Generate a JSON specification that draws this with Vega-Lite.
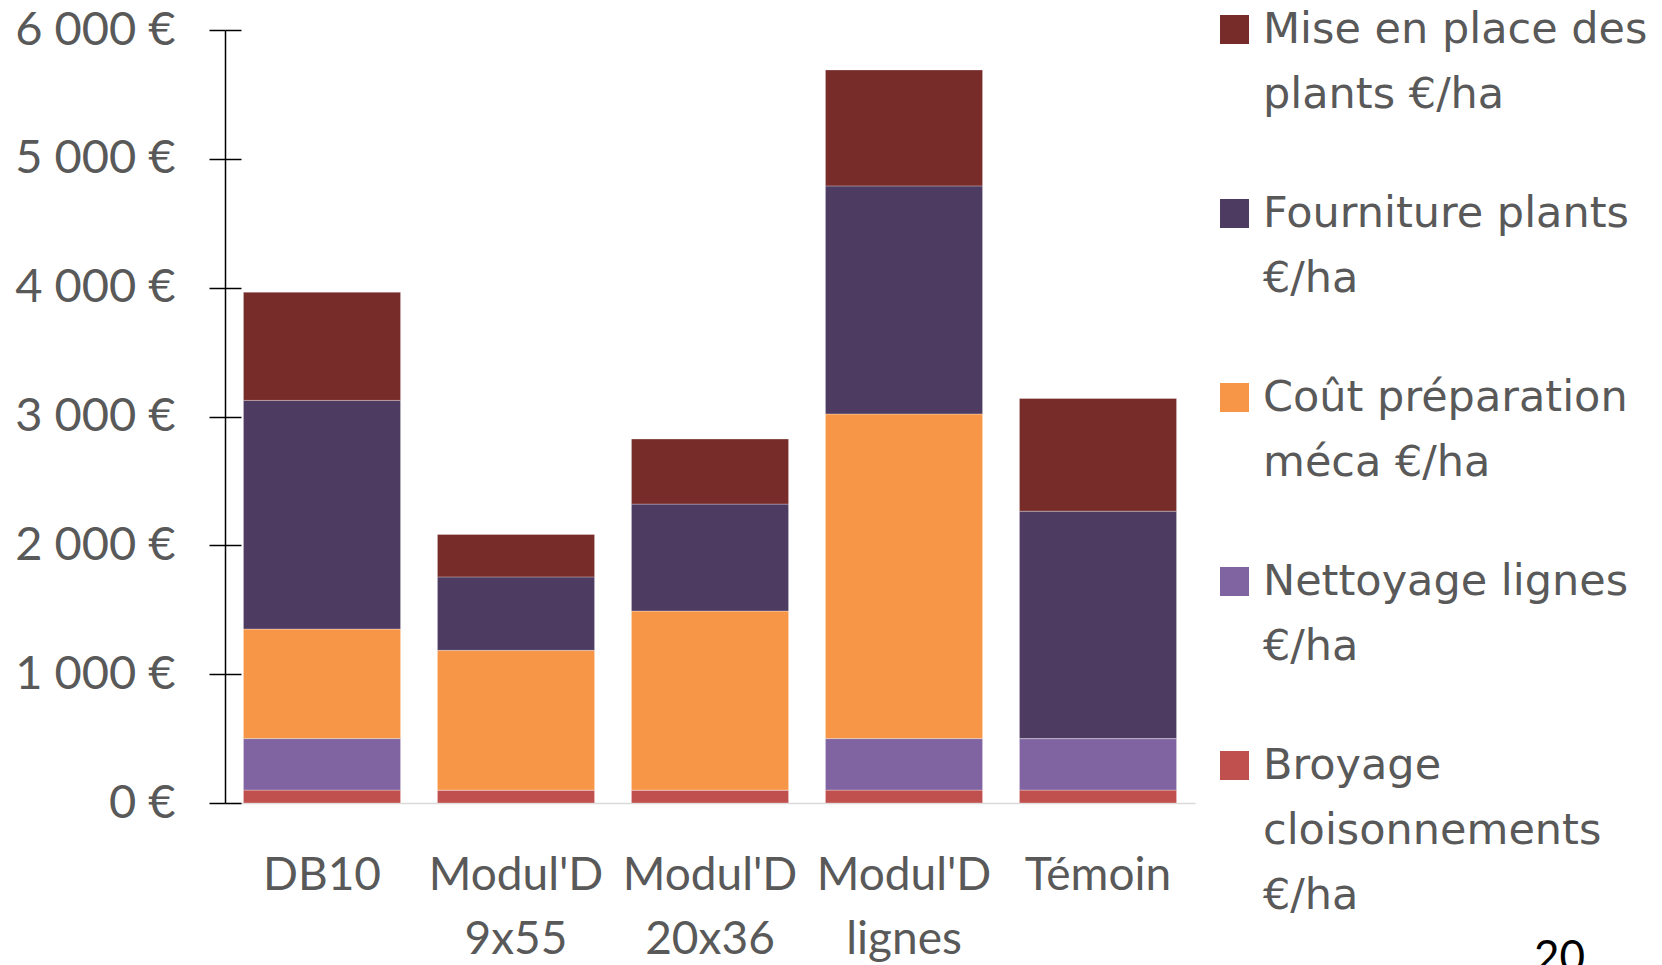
{
  "$schema": "https://vega.github.io/schema/vega-lite/v6.json",
  "width": 970,
  "height": 773,
  "autosize": {"type": "none"},
  "padding": {"left": 225, "top": 30, "right": 467, "bottom": 162},
  "background": "white",
  "config": {"view": {"stroke": null}, "font": "Lato", "style": {"guide-label": {"lineHeight": 65}}},
  "title": {"text": "20", "orient": "bottom", "anchor": "end", "frame": "group", "dx": 390, "dy": -29, "fontSize": 44, "font": "Lato", "fontWeight": "normal", "color": "#000000"},
  "data": {"values": [
    {"groupe": "DB10", "poste": "Broyage cloisonnements €/ha", "rang": 1, "cout": 100},
    {"groupe": "DB10", "poste": "Nettoyage lignes €/ha", "rang": 2, "cout": 400},
    {"groupe": "DB10", "poste": "Coût préparation méca €/ha", "rang": 3, "cout": 850},
    {"groupe": "DB10", "poste": "Fourniture plants €/ha", "rang": 4, "cout": 1775},
    {"groupe": "DB10", "poste": "Mise en place des plants €/ha", "rang": 5, "cout": 840},
    {"groupe": "Modul'D 9x55", "poste": "Broyage cloisonnements €/ha", "rang": 1, "cout": 100},
    {"groupe": "Modul'D 9x55", "poste": "Nettoyage lignes €/ha", "rang": 2, "cout": 0},
    {"groupe": "Modul'D 9x55", "poste": "Coût préparation méca €/ha", "rang": 3, "cout": 1085},
    {"groupe": "Modul'D 9x55", "poste": "Fourniture plants €/ha", "rang": 4, "cout": 570},
    {"groupe": "Modul'D 9x55", "poste": "Mise en place des plants €/ha", "rang": 5, "cout": 330},
    {"groupe": "Modul'D 20x36", "poste": "Broyage cloisonnements €/ha", "rang": 1, "cout": 100},
    {"groupe": "Modul'D 20x36", "poste": "Nettoyage lignes €/ha", "rang": 2, "cout": 0},
    {"groupe": "Modul'D 20x36", "poste": "Coût préparation méca €/ha", "rang": 3, "cout": 1390},
    {"groupe": "Modul'D 20x36", "poste": "Fourniture plants €/ha", "rang": 4, "cout": 830},
    {"groupe": "Modul'D 20x36", "poste": "Mise en place des plants €/ha", "rang": 5, "cout": 505},
    {"groupe": "Modul'D lignes", "poste": "Broyage cloisonnements €/ha", "rang": 1, "cout": 100},
    {"groupe": "Modul'D lignes", "poste": "Nettoyage lignes €/ha", "rang": 2, "cout": 400},
    {"groupe": "Modul'D lignes", "poste": "Coût préparation méca €/ha", "rang": 3, "cout": 2520},
    {"groupe": "Modul'D lignes", "poste": "Fourniture plants €/ha", "rang": 4, "cout": 1770},
    {"groupe": "Modul'D lignes", "poste": "Mise en place des plants €/ha", "rang": 5, "cout": 900},
    {"groupe": "Témoin", "poste": "Broyage cloisonnements €/ha", "rang": 1, "cout": 100},
    {"groupe": "Témoin", "poste": "Nettoyage lignes €/ha", "rang": 2, "cout": 400},
    {"groupe": "Témoin", "poste": "Coût préparation méca €/ha", "rang": 3, "cout": 0},
    {"groupe": "Témoin", "poste": "Fourniture plants €/ha", "rang": 4, "cout": 1765},
    {"groupe": "Témoin", "poste": "Mise en place des plants €/ha", "rang": 5, "cout": 875}
  ]},
  "resolve": {"axis": {"y": "independent"}},
  "layer": [
    {
      "mark": {"type": "bar", "stroke": "#ffffff", "strokeWidth": 0.6, "strokeOpacity": 0.5},
      "encoding": {
        "x": {
          "field": "groupe", "type": "nominal", "sort": null,
          "scale": {"paddingInner": 0.19, "paddingOuter": 0.095},
          "axis": {
            "title": null, "labelAngle": 0, "ticks": false, "tickSize": 0,
            "domainColor": "#D9D9D9", "domainWidth": 1.5,
            "labelFont": "Lato", "labelFontSize": 46, "labelColor": "#595959",
            "labelBaseline": "alphabetic", "labelPadding": 86, "labelLineHeight": 64,
            "labelExpr": "split(datum.label, ' ')"
          }
        },
        "y": {
          "field": "cout", "type": "quantitative", "stack": "zero",
          "scale": {"domain": [0, 6000], "nice": false},
          "axis": {
            "title": null, "grid": false, "orient": "left",
            "values": [0, 1000, 2000, 3000, 4000, 5000, 6000],
            "domainColor": "#000000", "domainWidth": 1.5,
            "tickColor": "#000000", "tickWidth": 1.5, "tickSize": 16,
            "labelFont": "Lato", "labelFontSize": 47, "labelColor": "#595959",
            "labelPadding": 34,
            "labelExpr": "replace(format(datum.value, ',d'), ',', ' ') + ' €'"
          }
        },
        "color": {
          "field": "poste", "type": "nominal",
          "scale": {
            "domain": ["Mise en place des plants €/ha", "Fourniture plants €/ha", "Coût préparation méca €/ha", "Nettoyage lignes €/ha", "Broyage cloisonnements €/ha"],
            "range": ["#772C2A", "#4D3B62", "#F79646", "#8064A2", "#C0504D"]
          },
          "legend": {
            "title": null, "orient": "none", "legendX": 988, "legendY": -22,
            "symbolType": "square", "symbolSize": 841, "symbolStrokeWidth": 0,
            "labelFont": "DejaVu Sans", "labelFontSize": 43, "labelColor": "#595959",
            "labelLimit": 0, "labelOffset": 7,
            "labelBaseline": "middle", "rowPadding": 75, "padding": 0,
            "labelExpr": "datum.label == 'Mise en place des plants €/ha' ? ['Mise en place des', 'plants €/ha'] : datum.label == 'Fourniture plants €/ha' ? ['Fourniture plants', '€/ha'] : datum.label == 'Coût préparation méca €/ha' ? ['Coût préparation', 'méca €/ha'] : datum.label == 'Nettoyage lignes €/ha' ? ['Nettoyage lignes', '€/ha'] : ['Broyage', 'cloisonnements', '€/ha']"
          }
        },
        "order": {"field": "rang", "type": "quantitative"}
      }
    },
    {
      "mark": {"type": "bar", "opacity": 0},
      "encoding": {
        "x": {"field": "groupe", "type": "nominal", "sort": null},
        "y": {
          "field": "cout", "type": "quantitative", "stack": "zero",
          "axis": {
            "title": null, "grid": false, "orient": "left", "labels": false, "domain": false,
            "values": [0, 1000, 2000, 3000, 4000, 5000, 6000],
            "tickColor": "#000000", "tickWidth": 1.5, "tickSize": -16
          }
        },
        "order": {"field": "rang", "type": "quantitative"}
      }
    }
  ]
}
